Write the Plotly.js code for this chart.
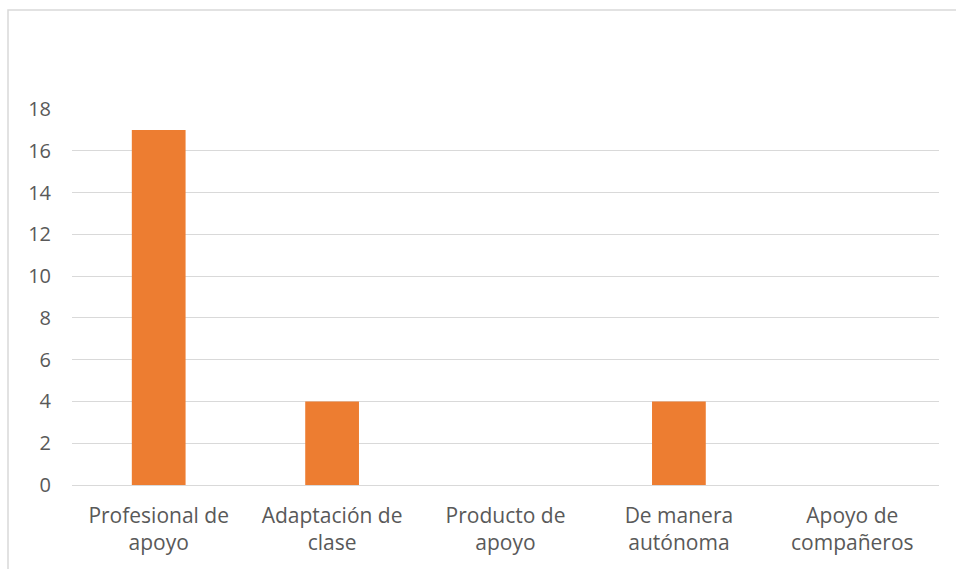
<!DOCTYPE html>
<html>
<head>
<meta charset="utf-8">
<script src="https://cdn.plot.ly/plotly-3.0.1.min.js"></script>
<style>html,body{margin:0;padding:0;background:#fff;}#chart{width:956px;height:569px;}</style>
</head>
<body>
<div id="chart"></div>
<script>
const categories = ["Profesional de<br>apoyo", "Adaptación de<br>clase", "Producto de<br>apoyo", "De manera<br>autónoma", "Apoyo de<br>compañeros"];
const values = [17, 4, 0, 4, 0];
const yTicks = [0, 2, 4, 6, 8, 10, 12, 14, 16, 18];

const W = 956, H = 569;
const m = {l: 72, r: 17, t: 109, b: 84};
const pw = W - m.l - m.r, ph = H - m.t - m.b;

Plotly.newPlot('chart', [{
  type: 'bar',
  x: categories,
  y: values,
  marker: {color: '#ED7D31'},
  width: 0.31,
  hoverinfo: 'none'
}], {
  width: W, height: H,
  margin: m,
  paper_bgcolor: '#fff', plot_bgcolor: '#fff',
  font: {family: '"Open Sans", sans-serif', size: 20, color: '#595959'},
  showlegend: false,
  xaxis: {
    type: 'category',
    showgrid: false, zeroline: false, showline: false,
    ticks: '', ticklabelstandoff: 16,
    tickfont: {size: 21, color: '#595959'}
  },
  yaxis: {
    range: [0, 18],
    tickvals: yTicks,
    showgrid: true, gridcolor: '#D9D9D9', gridwidth: 1,
    zeroline: true, zerolinecolor: '#D9D9D9', zerolinewidth: 1,
    showline: false, ticks: '', ticklabelstandoff: 20,
    tickfont: {size: 20, color: '#595959'}
  },
  shapes: [{
    type: 'rect', xref: 'paper', yref: 'paper',
    x0: (8 - m.l) / pw, x1: 1.2,
    y0: -0.4, y1: (H - m.b - 10) / ph,
    line: {color: '#D9D9D9', width: 1.5}, fillcolor: 'rgba(0,0,0,0)', layer: 'below'
  }]
}, {displayModeBar: false, staticPlot: true});
</script>
</body>
</html>
